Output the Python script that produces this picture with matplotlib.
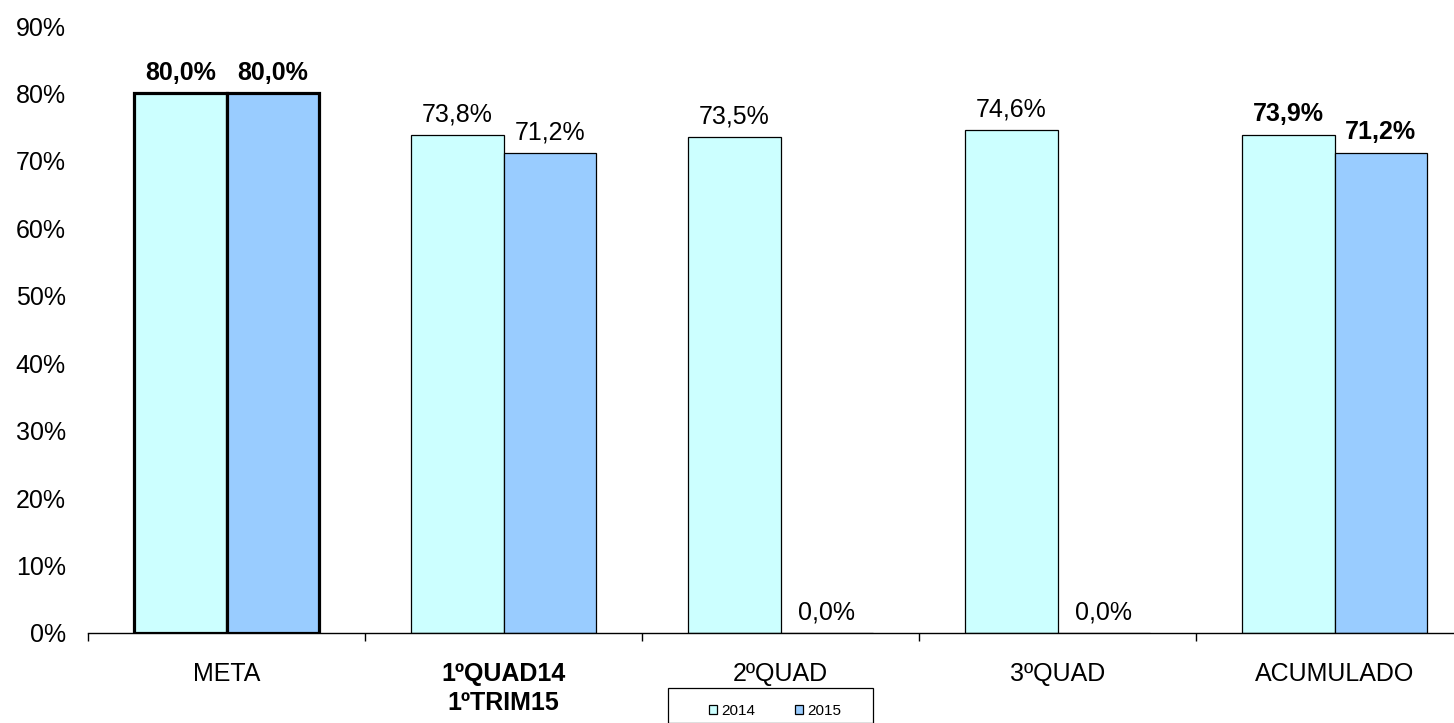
import matplotlib
matplotlib.use("Agg")
import matplotlib.pyplot as plt
from matplotlib.patches import Rectangle
import numpy as np

plt.rcParams['font.family'] = ['Liberation Sans', 'DejaVu Sans']

categories = ["META", "1ºQUAD14\n1ºTRIM15", "2ºQUAD", "3ºQUAD", "ACUMULADO"]
vals_2014 = [80.0, 73.8, 73.5, 74.6, 73.9]
vals_2015 = [80.0, 71.2, 0.0, 0.0, 71.2]
bold_labels = [0, 4]   # categories with bold value labels
bold_ticks = [1]       # bold category name
thick_edge = [0]       # META bars drawn with heavy outline

W, H = 1454, 723
fig = plt.figure(figsize=(W / 100, H / 100), dpi=100)
# each category is ~277px wide; the axes run past the right edge like the original
ax = fig.add_axes([88 / W, (H - 633) / H, 1385 / W, 607 / H])

x = np.arange(len(categories))
w = 0.333
c14 = '#CCFFFF'
c15 = '#99CCFF'
lws = [2.3 if i in thick_edge else 0.9 for i in range(len(categories))]

b1 = ax.bar(x - w / 2, vals_2014, w, color=c14, edgecolor='black', linewidth=lws, label='2014')
b2 = ax.bar(x + w / 2, vals_2015, w, color=c15, edgecolor='black', linewidth=lws, label='2015')

for i in range(len(categories)):
    fw = 'bold' if i in bold_labels else 'normal'
    for xx, v in [(x[i] - w / 2, vals_2014[i]), (x[i] + w / 2, vals_2015[i])]:
        ax.text(xx, v + 2.0, f"{v:.1f}%".replace('.', ','), ha='center', va='baseline',
                fontsize=18, fontweight=fw)

ax.set_xlim(-0.5, len(categories) - 0.5)
ax.set_ylim(0, 90)
ax.set_yticks(range(0, 91, 10))
ax.set_yticklabels([f"{t}%" for t in range(0, 91, 10)], fontsize=18)
ax.set_xticks(x)
ax.set_xticklabels(categories, fontsize=18, linespacing=1.25)
for i, lbl in enumerate(ax.get_xticklabels()):
    if i in bold_ticks:
        lbl.set_fontweight('bold')
ax.tick_params(axis='x', length=0, pad=21)
ax.tick_params(axis='y', length=0, pad=16)
ax.set_xticks(np.arange(-0.5, len(categories), 1), minor=True)
ax.tick_params(axis='x', which='minor', length=6, width=1, direction='out')

for s in ['top', 'right', 'left']:
    ax.spines[s].set_visible(False)
ax.spines['bottom'].set_linewidth(1)

# legend box (cut off by the bottom edge in the original)
fig.patches.append(Rectangle((668 / W, 0), 205 / W, (H - 688) / H, transform=fig.transFigure,
                             fill=False, edgecolor='black', linewidth=0.9, clip_on=False))
leg = fig.legend(handles=[b1, b2], labels=['2014', '2015'], loc='center left',
                 bbox_to_anchor=(709 / W, 1 - 711 / H), ncol=2, fontsize=11,
                 frameon=False, handlelength=0.55, handleheight=0.55, handletextpad=0.25,
                 columnspacing=2.6, borderpad=0, borderaxespad=0)
for h in leg.legend_handles:
    h.set_linewidth(0.9)

fig.savefig("out.png", dpi=100)
